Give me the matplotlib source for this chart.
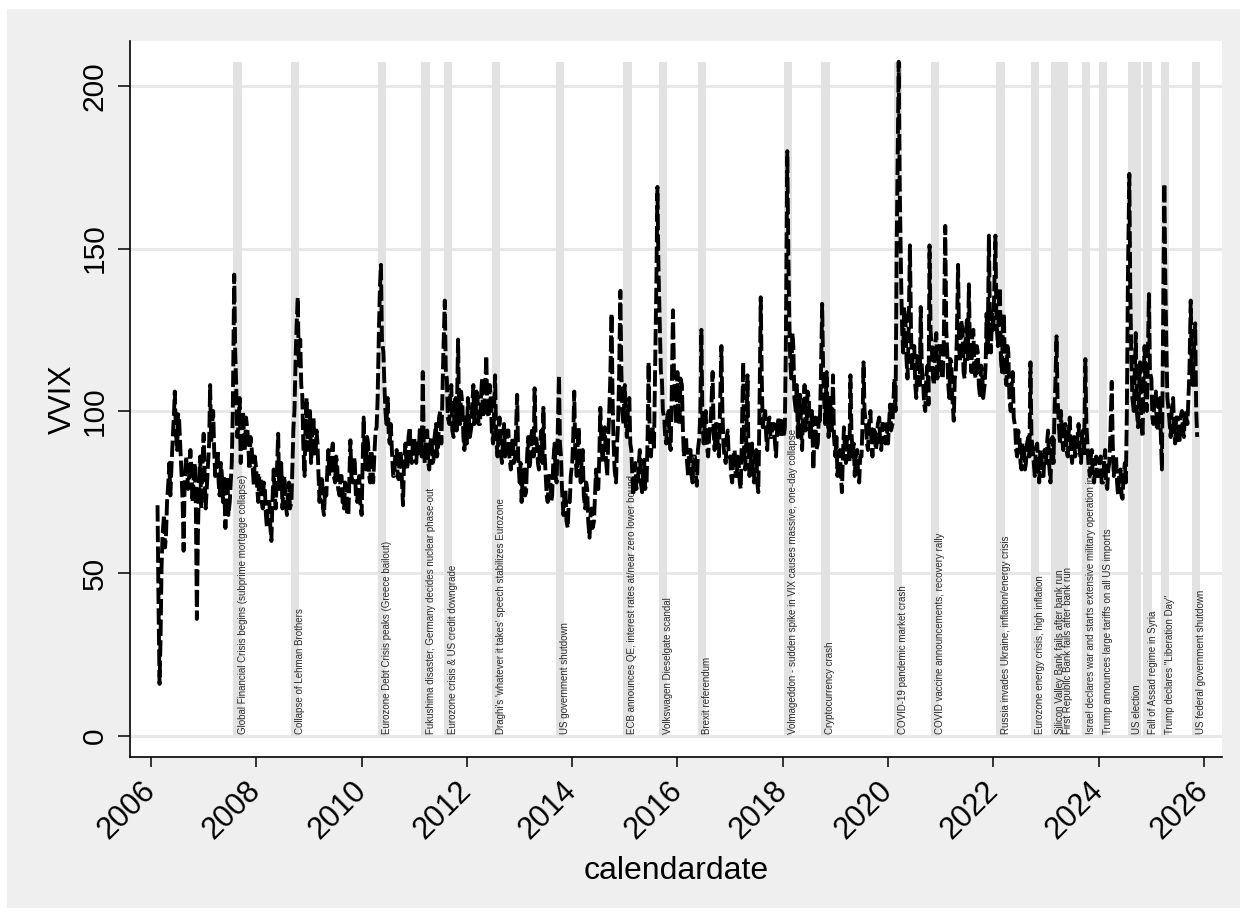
import matplotlib
matplotlib.use('Agg')
import matplotlib.pyplot as plt
import matplotlib.dates as mdates
from matplotlib.patches import Rectangle
import pandas as pd

plt.rcParams['font.family'] = ['Liberation Sans', 'DejaVu Sans']

# ---- VVIX readings on the 1st and 15th of every month (a) ----
a2006 = [71, 16, 52, 68, 62, 78, 74, 92, 106, 88, 97, 80, 57, 86, 76, 88, 72, 84, 36, 80, 70]  # from 15 Feb
a2007 = [93, 70, 85, 108, 96, 88, 84, 78, 84, 72, 64, 80, 72, 84, 142, 108, 96, 84, 100, 88, 94, 82, 88, 77]
a2008 = [82, 72, 80, 70, 76, 64, 72, 60, 82, 70, 93, 78, 70, 80, 68, 78, 72, 95, 118, 135, 122, 105, 80, 104]
a2009 = [95, 84, 98, 86, 90, 72, 80, 68, 74, 88, 82, 90, 78, 84, 74, 80, 70, 76, 68, 91, 78, 84, 72, 80]
a2010 = [68, 98, 82, 90, 78, 86, 88, 95, 125, 145, 118, 100, 104, 90, 86, 80, 88, 79, 86, 71, 90, 82, 95, 84]
a2011 = [92, 84, 87, 95, 112, 84, 94, 82, 92, 85, 96, 88, 100, 104, 134, 110, 96, 108, 92, 104, 122, 96, 102, 88]
a2012 = [90, 98, 95, 108, 98, 104, 96, 110, 100, 117, 98, 104, 90, 111, 86, 98, 84, 96, 88, 94, 82, 92, 86, 105]
a2013 = [78, 72, 82, 75, 92, 84, 95, 107, 90, 82, 94, 101, 80, 72, 80, 74, 90, 78, 111, 86, 68, 76, 64, 72]
a2014 = [84, 106, 80, 95, 78, 88, 70, 76, 61, 70, 66, 82, 76, 101, 84, 95, 80, 100, 130, 90, 78, 96, 137, 100]
a2015 = [108, 92, 104, 88, 74, 84, 78, 88, 75, 85, 78, 115, 86, 95, 120, 169, 125, 110, 98, 90, 100, 88, 131, 105]
a2016 = [112, 96, 108, 86, 92, 80, 88, 78, 86, 77, 92, 125, 90, 100, 86, 95, 112, 88, 96, 86, 120, 90, 84, 94]
a2017 = [86, 78, 88, 80, 84, 76, 115, 82, 111, 80, 90, 78, 88, 75, 135, 95, 100, 88, 98, 92, 96, 86, 98, 92]
a2018 = [98, 95, 180, 128, 110, 120, 100, 92, 105, 88, 108, 96, 104, 94, 82, 98, 90, 96, 133, 104, 112, 92, 100, 111]
a2019 = [86, 80, 88, 75, 95, 84, 90, 111, 86, 80, 88, 78, 86, 115, 96, 88, 100, 86, 95, 90, 98, 88, 96, 90]
a2020 = [90, 102, 96, 110, 150, 207.5, 140, 118, 128, 110, 151, 112, 120, 104, 118, 132, 108, 100, 114, 151, 118, 108, 124, 112]
a2021 = [120, 110, 157, 118, 104, 115, 97, 112, 145, 115, 125, 110, 128, 139, 112, 125, 110, 118, 104, 112, 108, 130, 154, 118]
a2022 = [125, 154, 120, 138, 112, 130, 108, 118, 100, 112, 95, 86, 92, 82, 90, 84, 92, 115, 88, 80, 90, 78, 86, 80]
a2023 = [84, 94, 78, 92, 100, 123, 95, 100, 88, 96, 86, 98, 84, 92, 88, 96, 84, 94, 116, 90, 80, 88, 78, 86]
a2024 = [80, 86, 78, 88, 76, 84, 109, 80, 86, 74, 82, 73, 84, 100, 173, 118, 100, 124, 95, 115, 92, 120, 100, 136]
a2025 = [110, 96, 106, 94, 104, 82, 170, 120, 100, 92, 104, 90, 98, 90, 100, 92, 98, 104, 134, 108, 127, 92]  # to 15 Nov

# ---- VVIX readings one week later (8th and 22nd of every month) (b) ----
b2006 = [40, 30, 62, 58, 72, 84, 82, 98, 94, 99, 90, 72, 78, 82, 80, 82, 78, 70, 62, 86, 82]
b2007 = [80, 76, 90, 90, 100, 80, 88, 74, 80, 80, 74, 68, 78, 100, 118, 92, 104, 92, 92, 98, 88, 92, 82, 86]
b2008 = [76, 80, 72, 78, 68, 72, 64, 72, 74, 80, 76, 84, 78, 72, 76, 70, 84, 100, 128, 114, 108, 90, 96, 88]
b2009 = [100, 92, 88, 94, 80, 78, 70, 76, 82, 80, 88, 80, 86, 76, 80, 72, 78, 68, 80, 80, 86, 74, 78, 72]
b2010 = [84, 86, 92, 80, 88, 78, 94, 104, 138, 122, 108, 96, 92, 96, 80, 86, 80, 88, 78, 84, 84, 92, 86, 90]
b2011 = [86, 90, 94, 86, 90, 92, 84, 90, 84, 92, 86, 98, 90, 118, 112, 98, 104, 94, 102, 94, 100, 106, 92, 98]
b2012 = [104, 92, 102, 96, 106, 96, 104, 98, 108, 100, 108, 94, 100, 92, 94, 88, 92, 86, 94, 86, 90, 84, 96, 86]
b2013 = [84, 80, 74, 86, 82, 92, 86, 92, 84, 90, 84, 88, 74, 80, 72, 84, 80, 92, 90, 76, 74, 66, 72, 80]
b2014 = [92, 88, 90, 82, 86, 74, 78, 66, 68, 64, 74, 76, 86, 90, 92, 86, 92, 110, 104, 82, 90, 110, 112, 96]
b2015 = [96, 100, 90, 80, 82, 76, 84, 78, 82, 76, 92, 94, 92, 88, 140, 145, 112, 100, 92, 98, 90, 104, 112, 96]
b2016 = [100, 110, 94, 90, 84, 88, 80, 86, 80, 88, 100, 98, 96, 90, 92, 100, 94, 96, 88, 100, 100, 86, 92, 86]
b2017 = [80, 86, 80, 86, 78, 90, 86, 90, 86, 84, 80, 86, 78, 96, 110, 98, 92, 96, 92, 96, 90, 94, 92, 97]
b2018 = [92, 120, 150, 115, 124, 104, 108, 100, 94, 100, 94, 106, 92, 100, 92, 88, 98, 110, 112, 96, 98, 104, 94, 92]
b2019 = [92, 86, 80, 86, 88, 92, 84, 94, 90, 86, 80, 86, 96, 100, 90, 96, 90, 94, 88, 96, 90, 96, 92, 96]
b2020 = [96, 94, 104, 100, 180, 170, 125, 132, 116, 122, 126, 118, 108, 116, 108, 114, 102, 110, 102, 125, 110, 120, 110, 120]
b2021 = [110, 122, 125, 108, 116, 104, 110, 122, 120, 128, 112, 122, 116, 120, 124, 112, 120, 108, 114, 104, 114, 118, 128, 130]
b2022 = [140, 128, 134, 116, 126, 112, 120, 104, 108, 98, 88, 94, 84, 90, 82, 90, 86, 92, 84, 88, 82, 88, 80, 88]
b2023 = [90, 84, 88, 84, 110, 104, 90, 92, 94, 88, 94, 88, 90, 86, 92, 88, 92, 86, 96, 84, 86, 80, 84, 80]
b2024 = [84, 78, 84, 78, 82, 92, 90, 84, 78, 80, 74, 80, 78, 140, 135, 104, 112, 100, 108, 98, 110, 104, 118, 112]
b2025 = [98, 104, 94, 102, 92, 120, 140, 104, 96, 100, 94, 98, 92, 98, 94, 100, 96, 112, 112, 118, 100]

a_vals = (a2006 + a2007 + a2008 + a2009 + a2010 + a2011 + a2012 + a2013 + a2014 + a2015
          + a2016 + a2017 + a2018 + a2019 + a2020 + a2021 + a2022 + a2023 + a2024 + a2025)
b_vals = (b2006 + b2007 + b2008 + b2009 + b2010 + b2011 + b2012 + b2013 + b2014 + b2015
          + b2016 + b2017 + b2018 + b2019 + b2020 + b2021 + b2022 + b2023 + b2024 + b2025)
a_dates = pd.date_range('2006-02-15', periods=len(a_vals), freq='SMS')
b_dates = a_dates[:len(b_vals)] + pd.Timedelta(days=7)

series = pd.concat([pd.Series(a_vals, index=a_dates), pd.Series(b_vals, index=b_dates)]).sort_index()

# ---- events ----
event_labels = [
    "Global Financial Crisis begins (subprime mortgage collapse)",
    "Collapse of Lehman Brothers",
    "Eurozone Debt Crisis peaks (Greece bailout)",
    "Fukushima disaster, Germany decides nuclear phase-out",
    "Eurozone crisis & US credit downgrade",
    "Draghi's 'whatever it takes' speech stabilizes Eurozone",
    "US government shutdown",
    "ECB announces QE, interest rates at/near zero lower bound",
    "Volkswagen Dieselgate scandal",
    "Brexit referendum",
    "Volmageddon - sudden spike in VIX causes massive, one-day collapse",
    "Cryptocurrency crash",
    "COVID-19 pandemic market crash",
    "COVID vaccine announcements, recovery rally",
    "Russia invades Ukraine, inflation/energy crisis",
    "Eurozone energy crisis, high inflation",
    "Silicon Valley Bank fails after bank run",
    "First Republic Bank fails after bank run",
    "Israel declares war and starts extensive military operation in",
    "Trump announces large tariffs on all US imports",
    "US election",
    "Fall of Assad regime in Syria",
    "Trump declares \"Liberation Day\"",
    "US federal government shutdown",
]
event_start = ['2007-07-27', '2008-08-26', '2010-04-24', '2011-02-20', '2011-07-24', '2012-06-21',
               '2013-09-09', '2014-12-21', '2015-08-25', '2016-05-22', '2018-01-07', '2018-09-24',
               '2020-02-10', '2020-10-23', '2022-01-22', '2022-09-16', '2023-02-02', '2023-04-02',
               '2023-09-05', '2024-01-04', '2024-07-23', '2024-11-07', '2025-03-07', '2025-10-08']
event_end = ['2007-09-23', '2008-10-23', '2010-06-21', '2011-04-19', '2011-09-20', '2012-08-18',
             '2013-11-06', '2015-02-17', '2015-10-22', '2016-07-19', '2018-03-06', '2018-11-21',
             '2020-04-08', '2020-12-20', '2022-03-21', '2022-11-13', '2023-04-01', '2023-05-31',
             '2023-11-02', '2024-03-02', '2024-10-23', '2025-01-04', '2025-05-04', '2025-12-05']

# ---- figure ----
W, H = 1244, 913
fig = plt.figure(figsize=(W / 100, H / 100), dpi=100, facecolor='white')
fig.add_artist(Rectangle((7 / W, 5 / H), (1240 - 7) / W, (908 - 9) / H,
                         transform=fig.transFigure, facecolor='#efefef', edgecolor='none', zorder=-5))
ax = fig.add_axes([130 / W, (H - 757) / H, (1222 - 130) / W, (757 - 41) / H])
ax.set_facecolor('white')

band_top = series.max()
bar_color = '#e2e2e2'
label_offset = pd.Timedelta(days=29)
for lab, s, e in zip(event_labels, event_start, event_end):
    s = pd.Timestamp(s)
    e = pd.Timestamp(e)
    x0, x1 = mdates.date2num(s), mdates.date2num(e)
    ax.bar(x0, band_top, width=x1 - x0, bottom=0, align='edge', color=bar_color,
           edgecolor='none', zorder=1)
    ax.text(mdates.date2num(s + label_offset), 0.6, lab, rotation=90, ha='left', va='bottom',
            fontsize=7, color='#2a2a2a', zorder=2)

ax.plot(mdates.date2num(series.index), series.values, color='black', lw=2.8,
        linestyle=(0, (4.2, 1.1)), zorder=3)

# axes styling
ax.set_ylim(-6.5, 213.9)
x_left = pd.Timestamp('2006-01-01') - pd.Timedelta(days=146)
x_right = pd.Timestamp('2026-01-01') + pd.Timedelta(days=125)
ax.set_xlim(mdates.date2num(x_left), mdates.date2num(x_right))

ax.set_yticks([0, 50, 100, 150, 200])
ax.yaxis.grid(True, color='#e8e8e8', lw=2.2, zorder=0)
ax.set_axisbelow(True)
years = list(range(2006, 2027, 2))
ax.set_xticks([mdates.date2num(pd.Timestamp(f'{y}-01-01')) for y in years])
ax.set_xticklabels([str(y) for y in years], rotation=45, ha='right', va='center',
                   rotation_mode='anchor', fontsize=22)
for t in ax.get_yticklabels():
    t.set_rotation(90)
    t.set_va('center')
    t.set_fontsize(21.5)

for side in ['top', 'right']:
    ax.spines[side].set_visible(False)
for side in ['left', 'bottom']:
    ax.spines[side].set_linewidth(1.2)
    ax.spines[side].set_color('black')

ax.tick_params(axis='y', length=8.5, width=1.1, pad=7)
ax.tick_params(axis='x', length=7.2, width=1.1, pad=14)

ax.set_ylabel('VVIX', fontsize=22, labelpad=2)
ax.set_xlabel('calendardate', fontsize=23, labelpad=8)

fig.savefig('out.png', dpi=100, facecolor='white')
